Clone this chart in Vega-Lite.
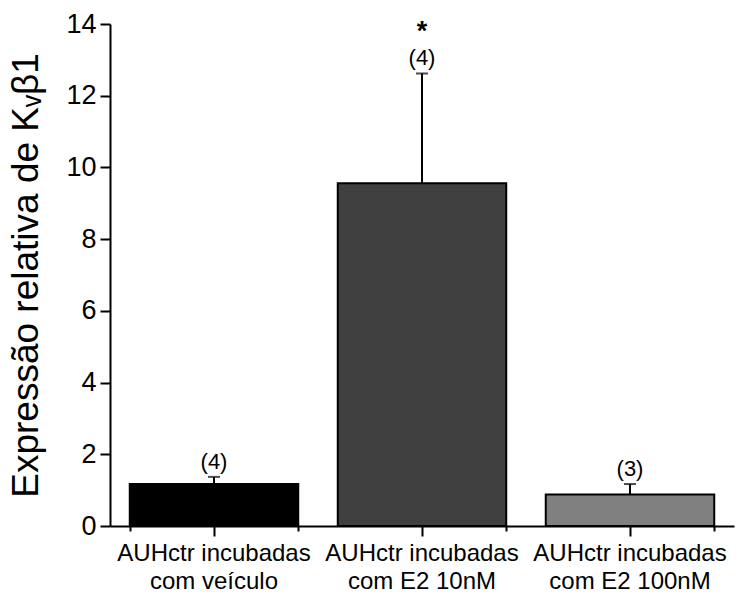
{
  "$schema": "https://vega.github.io/schema/vega-lite/v6.json",
  "width": 624,
  "height": 502,
  "autosize": "none",
  "padding": {"left": 110, "top": 24, "right": 20, "bottom": 74},
  "background": "white",
  "config": {"view": {"stroke": null}, "font": "Liberation Sans"},
  "data": {"values": [
    {"g": "AUHctr incubadas|com veículo", "v": 1.17, "e": 1.37, "n": "(4)", "s": "", "c": "#000000"},
    {"g": "AUHctr incubadas|com E2 10nM", "v": 9.56, "e": 12.62, "n": "(4)", "s": "*", "c": "#404040"},
    {"g": "AUHctr incubadas|com E2 100nM", "v": 0.88, "e": 1.17, "n": "(3)", "s": "", "c": "#808080"}
  ]},
  "resolve": {"axis": {"x": "independent"}},
  "layer": [
    {
      "mark": {"type": "bar", "stroke": "#000000", "strokeWidth": 2},
      "encoding": {
        "x": {"field": "g", "type": "nominal", "sort": null,
          "scale": {"paddingInner": 0.19, "paddingOuter": 0.095},
          "axis": {"orient": "bottom", "title": null, "labelAngle": 0, "labelExpr": "split(datum.label, '|')",
            "labelFontSize": 24, "labelLimit": 400, "labelColor": "#000000", "labelLineHeight": 28, "labelPadding": 5,
            "domainColor": "#000000", "domainWidth": 2, "tickColor": "#000000", "tickWidth": 2, "tickSize": 10}},
        "y": {"field": "v", "type": "quantitative",
          "scale": {"domain": [0, 14], "nice": false},
          "axis": {"title": "Expressão relativa de Kᵥβ1", "titleFontSize": 37, "titleFontWeight": "normal", "titleColor": "#000000", "titlePadding": 20,
            "values": [0,1,2,3,4,5,6,7,8,9,10,11,12,13,14],
            "labelExpr": "datum.value % 2 === 0 ? datum.label : ''",
            "labelFontSize": 27, "labelColor": "#000000", "labelPadding": 4,
            "grid": false, "domainColor": "#000000", "domainWidth": 2, "tickColor": "#000000", "tickWidth": 2,
            "tickSize": {"condition": {"test": "datum.value % 2 === 1", "value": 5}, "value": 10}}},
        "color": {"field": "c", "type": "nominal", "scale": null}
      }
    },
    {
      "mark": {"type": "rule", "color": "#000000", "strokeWidth": 2},
      "encoding": {
        "x": {"field": "g", "type": "nominal", "sort": null,
          "axis": {"orient": "bottom", "title": null, "labels": false, "domain": false, "tickBand": "extent",
            "tickColor": "#000000", "tickWidth": 2, "tickSize": 5}},
        "y": {"field": "v", "type": "quantitative"},
        "y2": {"field": "e"}
      }
    },
    {
      "mark": {"type": "tick", "color": "#000000", "size": 12, "thickness": 2},
      "encoding": {
        "x": {"field": "g", "type": "nominal", "sort": null, "axis": null},
        "y": {"field": "e", "type": "quantitative"}
      }
    },
    {
      "mark": {"type": "text", "baseline": "bottom", "dy": -3, "fontSize": 22, "color": "#000000"},
      "encoding": {
        "x": {"field": "g", "type": "nominal", "sort": null, "axis": null},
        "y": {"field": "e", "type": "quantitative"},
        "text": {"field": "n"}
      }
    },
    {
      "mark": {"type": "text", "baseline": "bottom", "dy": -27, "fontSize": 27, "fontWeight": "bold", "color": "#000000"},
      "encoding": {
        "x": {"field": "g", "type": "nominal", "sort": null, "axis": null},
        "y": {"field": "e", "type": "quantitative"},
        "text": {"field": "s"}
      }
    }
  ]
}
